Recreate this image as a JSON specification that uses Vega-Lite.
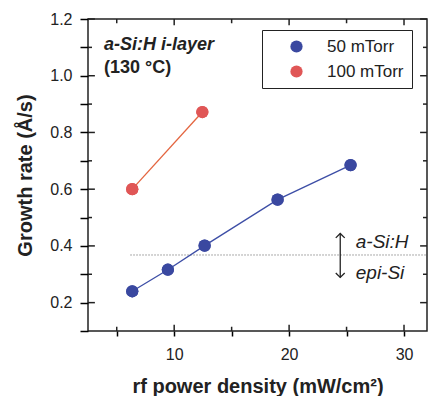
{
  "$schema": "https://vega.github.io/schema/vega-lite/v6.json",
  "width": 339,
  "height": 312,
  "autosize": {"type": "none"},
  "padding": {"left": 88, "top": 19, "right": 4, "bottom": 65},
  "background": "white",
  "config": {
    "font": "Liberation Sans",
    "view": {"stroke": "#222", "strokeWidth": 1.5},
    "axis": {
      "domain": false,
      "grid": false,
      "labelFont": "Liberation Sans",
      "labelFontSize": 16,
      "labelColor": "#222",
      "titleFont": "Liberation Sans",
      "titleFontSize": 20,
      "titleFontWeight": "bold",
      "titleColor": "#222"
    }
  },
  "datasets": {
    "pts": [
      {"power": 6.35, "rate": 0.24, "series": "50 mTorr"},
      {"power": 9.45, "rate": 0.316, "series": "50 mTorr"},
      {"power": 12.65, "rate": 0.401, "series": "50 mTorr"},
      {"power": 19.0, "rate": 0.563, "series": "50 mTorr"},
      {"power": 25.35, "rate": 0.685, "series": "50 mTorr"},
      {"power": 6.35, "rate": 0.6, "series": "100 mTorr"},
      {"power": 12.45, "rate": 0.872, "series": "100 mTorr"}
    ],
    "xmajor": [{"v": 10}, {"v": 20}, {"v": 30}],
    "xminor": [{"v": 5}, {"v": 15}, {"v": 25}],
    "ymajor": [{"v": 0.2}, {"v": 0.4}, {"v": 0.6}, {"v": 0.8}, {"v": 1.0}, {"v": 1.2}],
    "yminor": [{"v": 0.3}, {"v": 0.5}, {"v": 0.7}, {"v": 0.9}, {"v": 1.1}]
  },
  "resolve": {"axis": {"x": "independent", "y": "independent"}},
  "layer": [
    {
      "data": {"name": "pts"},
      "mark": {"type": "point", "filled": true, "shape": "circle", "size": 150, "opacity": 1},
      "encoding": {
        "x": {"field": "power", "type": "quantitative", "title": "rf power density (mW/cm²)",
          "scale": {"domain": [2.5, 32], "nice": false, "zero": false},
          "axis": {"orient": "bottom", "values": [5, 10, 15, 20, 25, 30],
            "labelExpr": "datum.value % 10 === 0 ? datum.label : ''",
            "ticks": true, "tickColor": "black", "tickWidth": 1.5,
            "labelPadding": 10, "titlePadding": 14}},
        "y": {"field": "rate", "type": "quantitative", "title": "Growth rate (Å/s)",
          "scale": {"domain": [0.1, 1.2], "nice": false, "zero": false},
          "axis": {"orient": "left", "values": [0.1, 0.2, 0.3, 0.4, 0.5, 0.6, 0.7, 0.8, 0.9, 1.0, 1.1, 1.2],
            "labelExpr": "round(datum.value*10) % 2 === 0 ? format(datum.value, '.1f') : ''",
            "ticks": true, "tickColor": "black", "tickWidth": 1.5, "tickSize": 8,
            "labelPadding": 8, "titlePadding": 14}},
        "fill": {"field": "series", "type": "nominal",
          "scale": {"domain": ["50 mTorr", "100 mTorr"], "range": ["#3a48a0", "#e05656"]},
          "legend": {"orient": "none", "legendX": 174, "legendY": 11, "title": null,
            "strokeColor": "#222", "fillColor": "white", "padding": 8,
            "symbolType": "circle", "symbolSize": 150, "symbolOffset": 18, "labelOffset": 22,
            "labelFontSize": 17, "labelFont": "Liberation Sans", "labelColor": "#222", "rowPadding": 7}}
      }
    },
    {
      "data": {"name": "xmajor"},
      "mark": {"type": "rule", "color": "#222", "strokeWidth": 1.5},
      "encoding": {
        "x": {"field": "v", "type": "quantitative", "axis": null},
        "y": {"datum": 0.1, "type": "quantitative", "axis": null},
        "y2": {"datum": 0.122}
      }
    },
    {
      "data": {"name": "xminor"},
      "mark": {"type": "rule", "color": "#222", "strokeWidth": 1.5},
      "encoding": {
        "x": {"field": "v", "type": "quantitative", "axis": null},
        "y": {"datum": 0.1, "type": "quantitative", "axis": null},
        "y2": {"datum": 0.115}
      }
    },
    {
      "data": {"name": "xmajor"},
      "mark": {"type": "rule", "color": "#222", "strokeWidth": 1.5},
      "encoding": {
        "x": {"field": "v", "type": "quantitative", "axis": null},
        "y": {"datum": 1.178, "type": "quantitative", "axis": null},
        "y2": {"datum": 1.2}
      }
    },
    {
      "data": {"name": "xminor"},
      "mark": {"type": "rule", "color": "#222", "strokeWidth": 1.5},
      "encoding": {
        "x": {"field": "v", "type": "quantitative", "axis": null},
        "y": {"datum": 1.185, "type": "quantitative", "axis": null},
        "y2": {"datum": 1.2}
      }
    },
    {
      "data": {"name": "ymajor"},
      "mark": {"type": "rule", "color": "#222", "strokeWidth": 1.5},
      "encoding": {
        "y": {"field": "v", "type": "quantitative", "axis": null},
        "x": {"datum": 2.5, "type": "quantitative", "axis": null},
        "x2": {"datum": 3.1}
      }
    },
    {
      "data": {"name": "yminor"},
      "mark": {"type": "rule", "color": "#222", "strokeWidth": 1.5},
      "encoding": {
        "y": {"field": "v", "type": "quantitative", "axis": null},
        "x": {"datum": 2.5, "type": "quantitative", "axis": null},
        "x2": {"datum": 2.85}
      }
    },
    {
      "data": {"name": "ymajor"},
      "mark": {"type": "rule", "color": "#222", "strokeWidth": 1.5},
      "encoding": {
        "y": {"field": "v", "type": "quantitative", "axis": null},
        "x": {"datum": 31.4, "type": "quantitative", "axis": null},
        "x2": {"datum": 32}
      }
    },
    {
      "data": {"name": "yminor"},
      "mark": {"type": "rule", "color": "#222", "strokeWidth": 1.5},
      "encoding": {
        "y": {"field": "v", "type": "quantitative", "axis": null},
        "x": {"datum": 31.65, "type": "quantitative", "axis": null},
        "x2": {"datum": 32}
      }
    },
    {
      "data": {"values": [{"x1": 6.2, "x2": 32, "y": 0.368}]},
      "mark": {"type": "rule", "strokeDash": [1, 2], "color": "#555", "strokeWidth": 1},
      "encoding": {
        "x": {"field": "x1", "type": "quantitative", "axis": null},
        "x2": {"field": "x2"},
        "y": {"field": "y", "type": "quantitative", "axis": null}
      }
    },
    {
      "data": {"name": "pts"},
      "mark": {"type": "line", "strokeWidth": 1.3},
      "encoding": {
        "x": {"field": "power", "type": "quantitative", "axis": null},
        "y": {"field": "rate", "type": "quantitative", "axis": null},
        "detail": {"field": "series"},
        "stroke": {"condition": {"test": "datum.series === '100 mTorr'", "value": "#e4653f"}, "value": "#3d4ea6"}
      }
    },
    {
      "data": {"name": "pts"},
      "mark": {"type": "point", "filled": true, "shape": "circle", "size": 150, "opacity": 1},
      "encoding": {
        "x": {"field": "power", "type": "quantitative", "axis": null},
        "y": {"field": "rate", "type": "quantitative", "axis": null},
        "fill": {"field": "series", "type": "nominal", "legend": null}
      }
    },
    {
      "data": {"values": [
        {"x": 3.9, "y": 1.108, "label": "a-Si:H i-layer"}
      ]},
      "mark": {"type": "text", "align": "left", "baseline": "middle", "fontSize": 18, "fontWeight": "bold", "fontStyle": "italic", "color": "#222"},
      "encoding": {"x": {"field": "x", "type": "quantitative", "axis": null}, "y": {"field": "y", "type": "quantitative", "axis": null}, "text": {"field": "label"}}
    },
    {
      "data": {"values": [
        {"x": 3.9, "y": 1.028, "label": "(130 °C)"}
      ]},
      "mark": {"type": "text", "align": "left", "baseline": "middle", "fontSize": 18, "fontWeight": "bold", "color": "#222"},
      "encoding": {"x": {"field": "x", "type": "quantitative", "axis": null}, "y": {"field": "y", "type": "quantitative", "axis": null}, "text": {"field": "label"}}
    },
    {
      "data": {"values": [
        {"x": 25.8, "y": 0.414, "label": "a-Si:H"},
        {"x": 25.8, "y": 0.305, "label": "epi-Si"}
      ]},
      "mark": {"type": "text", "align": "left", "baseline": "middle", "fontSize": 19, "fontStyle": "italic", "color": "#222"},
      "encoding": {"x": {"field": "x", "type": "quantitative", "axis": null}, "y": {"field": "y", "type": "quantitative", "axis": null}, "text": {"field": "label"}}
    },
    {
      "data": {"values": [{"x": 24.45, "y1": 0.289, "y2": 0.444}]},
      "mark": {"type": "rule", "color": "#222", "strokeWidth": 1.3},
      "encoding": {"x": {"field": "x", "type": "quantitative", "axis": null}, "y": {"field": "y1", "type": "quantitative", "axis": null}, "y2": {"field": "y2"}}
    },
    {
      "data": {"values": [
        {"x": 24.45, "y": 0.444, "dir": "up"},
        {"x": 24.45, "y": 0.289, "dir": "down"}
      ]},
      "mark": {"type": "point", "filled": false, "color": "#222", "strokeWidth": 1.3, "opacity": 1, "size": 80},
      "encoding": {
        "x": {"field": "x", "type": "quantitative", "axis": null},
        "y": {"field": "y", "type": "quantitative", "axis": null},
        "shape": {"field": "dir", "type": "nominal", "legend": null,
          "scale": {"domain": ["up", "down"], "range": ["M-1,1L0,0L1,1", "M-1,-1L0,0L1,-1"]}}
      }
    }
  ]
}
